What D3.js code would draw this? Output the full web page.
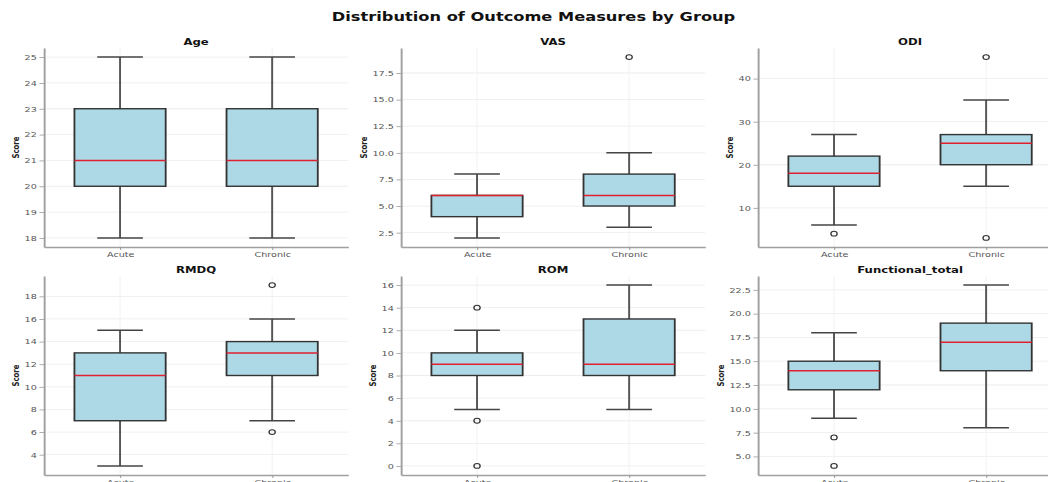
<!DOCTYPE html>
<html>
<head>
<meta charset="utf-8">
<script src="https://cdn.jsdelivr.net/npm/d3@7"></script>
<style>
  body { margin: 0; background: #fff; }
  text { font-family: "DejaVu Sans", sans-serif; }
</style>
</head>
<body>
<svg id="chart"></svg>
<script>
// data
var measures = ["Age", "VAS", "ODI", "RMDQ", "ROM", "Functional_total"];
var groups = ["Acute", "Chronic"];
var whiskerLow  = [[18, 18], [2, 3], [6, 15], [3, 7], [5, 5], [9, 8]];
var q1          = [[20, 20], [4, 5], [15, 20], [7, 11], [8, 8], [12, 14]];
var medians     = [[21, 21], [6, 6], [18, 25], [11, 13], [9, 9], [14, 17]];
var q3          = [[23, 23], [6, 8], [22, 27], [13, 14], [10, 13], [15, 19]];
var whiskerHigh = [[25, 25], [8, 10], [27, 35], [15, 16], [12, 16], [18, 23]];
var outliers    = [[[], []], [[], [19]], [[4], [45, 3]], [[], [19, 6]], [[14, 4, 0], []], [[7, 4], []]];
var yTicks = [
  [18, 19, 20, 21, 22, 23, 24, 25],
  [2.5, 5, 7.5, 10, 12.5, 15, 17.5],
  [10, 20, 30, 40],
  [4, 6, 8, 10, 12, 14, 16, 18],
  [0, 2, 4, 6, 8, 10, 12, 14, 16],
  [5, 7.5, 10, 12.5, 15, 17.5, 20, 22.5]
];
var tickFormats = ["d", ".1f", "d", "d", "d", ".1f"];

var W = 1048, H = 482;
var SX = 1.3; // the picture is stretched sideways
var colLeft = 33.85, colStep = 274.6, panelW = 234, panelH = 199;
var rowTop = [48, 276];

var svg = d3.select("#chart").attr("width", W).attr("height", H);
svg.append("rect").attr("width", W).attr("height", H).attr("fill", "#fff");
var root = svg.append("g").attr("transform", "scale(" + SX + ",1)");

root.append("text")
  .attr("x", 533.5 / SX).attr("y", 21)
  .attr("text-anchor", "middle")
  .attr("font-size", 12.5).attr("font-weight", "bold")
  .attr("fill", "#111")
  .text("Distribution of Outcome Measures by Group");

measures.forEach(function(m, i) {
  var col = i % 3, row = Math.floor(i / 3);
  var g = root.append("g")
    .attr("transform", "translate(" + (colLeft + col * colStep) + "," + rowTop[row] + ")");

  var all = [];
  groups.forEach(function(_, k) {
    all.push(whiskerLow[i][k], whiskerHigh[i][k]);
    all = all.concat(outliers[i][k]);
  });
  var lo = d3.min(all), hi = d3.max(all), pad = (hi - lo) * 0.05;

  var x = d3.scaleLinear().domain([0.5, 2.5]).range([0, panelW]);
  var y = d3.scaleLinear().domain([lo - pad, hi + pad]).range([panelH, 0]);

  // grid
  g.selectAll(".hg").data(yTicks[i]).enter().append("line")
    .attr("x1", 0).attr("x2", panelW)
    .attr("y1", function(d) { return y(d); }).attr("y2", function(d) { return y(d); })
    .attr("stroke", "#ececec").attr("stroke-width", 0.8);
  g.selectAll(".vg").data([1, 2]).enter().append("line")
    .attr("x1", function(d) { return x(d); }).attr("x2", function(d) { return x(d); })
    .attr("y1", 0).attr("y2", panelH)
    .attr("stroke", "#f2f2f2").attr("stroke-width", 0.8);

  // axes
  var ya = g.append("g")
    .call(d3.axisLeft(y).tickValues(yTicks[i]).tickFormat(d3.format(tickFormats[i]))
      .tickSize(3.5).tickSizeOuter(0).tickPadding(2));
  var xa = g.append("g").attr("transform", "translate(0," + panelH + ")")
    .call(d3.axisBottom(x).tickValues([1, 2]).tickFormat(function(d) { return groups[d - 1]; })
      .tickSize(3).tickSizeOuter(0).tickPadding(2));
  [ya, xa].forEach(function(a) {
    a.select(".domain").attr("stroke", "#a0a0a0").attr("stroke-width", 1.5);
    a.selectAll(".tick line").attr("stroke", "#999").attr("stroke-width", 0.8);
    a.selectAll(".tick text").attr("fill", "#555").attr("font-size", 7.4)
      .attr("font-family", "DejaVu Sans");
  });

  var maxW = 0;
  ya.selectAll(".tick text").each(function() { maxW = Math.max(maxW, this.getBBox().width); });

  g.append("text")
    .attr("transform", "translate(" + (-(3.5 + 2 + maxW + 6.6)) + "," + (panelH / 2) + ") rotate(-90)")
    .attr("dy", "0.35em")
    .attr("text-anchor", "middle")
    .attr("font-size", 6.9).attr("font-weight", "bold").attr("fill", "#222")
    .text("Score");

  g.append("text")
    .attr("x", panelW / 2).attr("y", -3.5)
    .attr("text-anchor", "middle")
    .attr("font-size", 9).attr("font-weight", "bold").attr("fill", "#111")
    .text(m);

  // boxes
  groups.forEach(function(grp, k) {
    var p = k + 1;
    var b = g.append("g");
    b.append("line")
      .attr("x1", x(p)).attr("x2", x(p))
      .attr("y1", y(whiskerLow[i][k])).attr("y2", y(q1[i][k]))
      .attr("stroke", "#555").attr("stroke-width", 1.5);
    b.append("line")
      .attr("x1", x(p)).attr("x2", x(p))
      .attr("y1", y(q3[i][k])).attr("y2", y(whiskerHigh[i][k]))
      .attr("stroke", "#555").attr("stroke-width", 1.5);
    [whiskerLow[i][k], whiskerHigh[i][k]].forEach(function(v) {
      b.append("line")
        .attr("x1", x(p - 0.15)).attr("x2", x(p + 0.15))
        .attr("y1", y(v)).attr("y2", y(v))
        .attr("stroke", "#444").attr("stroke-width", 1.5);
    });
    b.append("rect")
      .attr("x", x(p - 0.3)).attr("width", x(p + 0.3) - x(p - 0.3))
      .attr("y", y(q3[i][k])).attr("height", y(q1[i][k]) - y(q3[i][k]))
      .attr("fill", "#add8e6").attr("stroke", "#333").attr("stroke-width", 1.4);
    b.append("line")
      .attr("x1", x(p - 0.3)).attr("x2", x(p + 0.3))
      .attr("y1", y(medians[i][k])).attr("y2", y(medians[i][k]))
      .attr("stroke", "#e0202e").attr("stroke-width", 1.5);
    b.selectAll(".fl").data(outliers[i][k]).enter().append("circle")
      .attr("cx", x(p)).attr("cy", function(d) { return y(d); })
      .attr("r", 2.4)
      .attr("fill", "none").attr("stroke", "#333").attr("stroke-width", 1);
  });
});
</script>
</body>
</html>
